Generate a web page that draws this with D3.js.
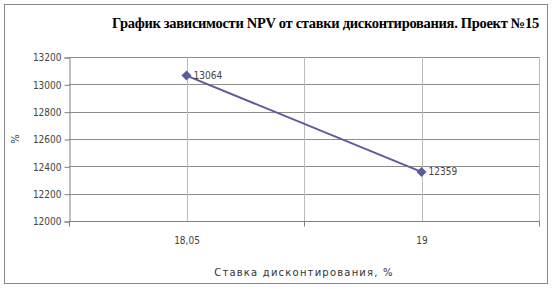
<!DOCTYPE html>
<html>
<head>
<meta charset="utf-8">
<script src="https://cdn.jsdelivr.net/npm/d3@7"></script>
<style>
  body { margin: 0; background: #fff; }
  svg text { font-family: "DejaVu Sans", sans-serif; }
</style>
</head>
<body>
<div class="chart"></div>
<script>
const categories = ["18,05", "19"];
const npvValues = [13064, 12359];
const yTicks = [12000, 12200, 12400, 12600, 12800, 13000, 13200];

const W = 553, H = 289;
const margin = {top: 57, left: 69, right: 14, bottom: 68};
const width = W - margin.left - margin.right;
const height = H - margin.top - margin.bottom;

const svg = d3.select('.chart').append('svg')
    .attr('width', W)
    .attr('height', H);

// outer frame
svg.append('rect')
    .attr('x', 4.5).attr('y', 4.5)
    .attr('width', 543).attr('height', 279)
    .attr('fill', 'white')
    .attr('stroke', '#888');

svg.append('text')
    .attr('x', 539)
    .attr('y', 28)
    .attr('text-anchor', 'end')
    .attr('font-weight', 'bold')
    .attr('font-size', 14.5)
    .attr('letter-spacing', -0.3)
    .style('font-family', '"Liberation Serif", serif')
    .text('График зависимости NPV от ставки дисконтирования. Проект №15');

const g = svg.append('g')
    .attr('transform', 'translate(' + margin.left + ',' + margin.top + ')');

const xScale = d3.scaleBand()
    .domain(categories)
    .range([0, width]);

const yScale = d3.scaleLinear()
    .domain([12000, 13200])
    .range([height, 0]);

// horizontal gridlines
g.selectAll('.hgrid')
    .data(yTicks)
    .enter()
    .append('line')
    .attr('class', 'hgrid')
    .attr('x1', 0).attr('x2', width)
    .attr('y1', d => Math.round(yScale(d)) + 0.5)
    .attr('y2', d => Math.round(yScale(d)) + 0.5)
    .attr('stroke', '#8c8c8c');

// vertical gridlines: band centers and band edges
const vLines = [];
categories.forEach((c, i) => {
    vLines.push(xScale(c) + xScale.bandwidth() / 2);
    vLines.push(xScale(c) + xScale.bandwidth());
});
g.selectAll('.vgrid')
    .data(vLines)
    .enter()
    .append('line')
    .attr('class', 'vgrid')
    .attr('x1', d => Math.round(d) + 0.5)
    .attr('x2', d => Math.round(d) + 0.5)
    .attr('y1', 0).attr('y2', height)
    .attr('stroke', '#bcbcbc');

// y axis
const yAxis = d3.axisLeft(yScale)
    .tickValues(yTicks)
    .tickSize(5)
    .tickPadding(3)
    .tickFormat(d3.format('d'));

const ya = g.append('g')
    .attr('class', 'axis y-axis')
    .attr('transform', 'translate(0.5,0.5)')
    .call(yAxis);
ya.select('.domain').attr('stroke', '#808080');
ya.selectAll('.tick line').attr('stroke', '#808080');
ya.selectAll('.tick text')
    .attr('font-size', 10)
    .attr('fill', '#444')
    .style('font-family', '"DejaVu Sans Condensed", "DejaVu Sans", sans-serif');

// x axis
const xa = g.append('g')
    .attr('class', 'axis x-axis')
    .attr('transform', 'translate(0.5,' + (Math.round(height) + 0.5) + ')');
xa.append('line')
    .attr('x1', 0).attr('x2', width)
    .attr('stroke', '#808080');
const xTickPos = [0].concat(categories.map(c => xScale(c) + xScale.bandwidth()));
xa.selectAll('.xtick')
    .data(xTickPos)
    .enter()
    .append('line')
    .attr('x1', d => Math.round(d)).attr('x2', d => Math.round(d))
    .attr('y1', 0).attr('y2', 5)
    .attr('stroke', '#808080');
xa.selectAll('.xlabel')
    .data(categories)
    .enter()
    .append('text')
    .attr('x', d => xScale(d) + xScale.bandwidth() / 2)
    .attr('y', 22)
    .attr('text-anchor', 'middle')
    .attr('font-size', 10)
    .attr('fill', '#444')
    .style('font-family', '"DejaVu Sans Condensed", "DejaVu Sans", sans-serif')
    .text(d => d);

// axis titles
svg.append('text')
    .attr('x', 304)
    .attr('y', 276)
    .attr('text-anchor', 'middle')
    .attr('font-size', 10)
    .attr('letter-spacing', 1.2)
    .attr('fill', '#333')
    .text('Ставка дисконтирования, %');

svg.append('text')
    .attr('transform', 'translate(19,139) rotate(-90)')
    .attr('text-anchor', 'middle')
    .attr('font-size', 10)
    .attr('fill', '#333')
    .text('%');

// line
const line = d3.line()
    .x((d, i) => xScale(categories[i]) + xScale.bandwidth() / 2)
    .y(d => yScale(d));

g.append('path')
    .datum(npvValues)
    .attr('d', line)
    .attr('fill', 'none')
    .attr('stroke', '#5c5c9c')
    .attr('stroke-width', 2);

// diamond markers
g.selectAll('.marker')
    .data(npvValues)
    .enter()
    .append('path')
    .attr('class', 'marker')
    .attr('d', d3.symbol().type(d3.symbolDiamond2).size(64))
    .attr('transform', (d, i) => 'translate(' + (xScale(categories[i]) + xScale.bandwidth() / 2) + ',' + yScale(d) + ')')
    .attr('fill', '#5c5c9c');

// data labels
g.selectAll('.dlabel')
    .data(npvValues)
    .enter()
    .append('text')
    .attr('x', (d, i) => xScale(categories[i]) + xScale.bandwidth() / 2 + 7)
    .attr('y', d => yScale(d) + 3)
    .attr('font-size', 10)
    .attr('fill', '#444')
    .style('font-family', '"DejaVu Sans Condensed", "DejaVu Sans", sans-serif')
    .text(d => d);
</script>
</body>
</html>
